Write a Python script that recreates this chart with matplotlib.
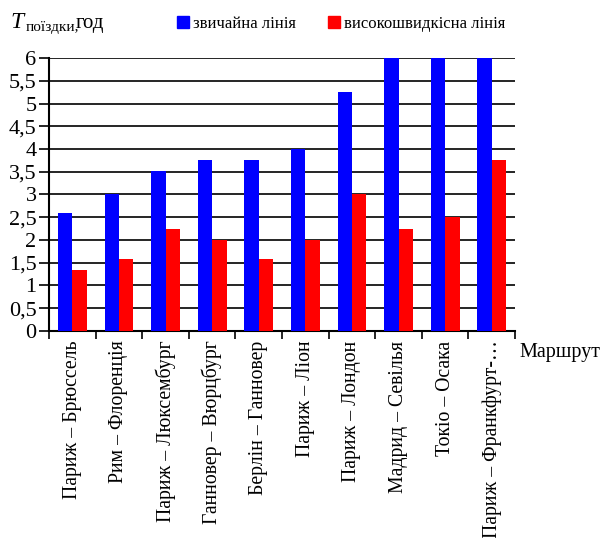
import numpy as np
import matplotlib.pyplot as plt
from matplotlib.patches import Patch
from matplotlib.ticker import FuncFormatter, MultipleLocator

plt.rcParams['font.family'] = ['Liberation Serif', 'DejaVu Serif']

routes = ['Париж – Брюссель', 'Рим – Флоренція', 'Париж – Люксембург',
          'Ганновер – Вюрцбург', 'Берлін – Ганновер', 'Париж – Ліон',
          'Париж – Лондон', 'Мадрид – Севілья', 'Токіо – Осака',
          'Париж – Франкфурт-…']
regular = [2.6, 3.0, 3.52, 3.75, 3.75, 4.0, 5.25, 6.0, 6.0, 6.0]
high_speed = [1.33, 1.58, 2.25, 2.0, 1.58, 2.0, 3.0, 2.25, 2.5, 3.75]

blue = '#0000ff'
red = '#ff0000'

fig = plt.figure(figsize=(6.06, 5.38), dpi=100)
ax = fig.add_axes([0.081, 0.385, 0.769, 0.507])

x = np.arange(len(routes))
w = 0.31
ax.bar(x - w / 2, regular, w, color=blue, zorder=3)
ax.bar(x + w / 2, high_speed, w, color=red, zorder=3)

ax.set_xlim(-0.5, len(routes) - 0.5)
ax.set_ylim(0, 6)
ax.yaxis.set_major_locator(MultipleLocator(0.5))
ax.yaxis.set_major_formatter(FuncFormatter(lambda v, p: ('%g' % v).replace('.', ',')))
ax.grid(axis='y', color='black', linewidth=1.2, zorder=1)

ax.set_xticks(x)
ax.set_xticklabels(routes, rotation=90, fontsize=14.2)
ax.set_xticks(np.arange(-0.5, len(routes)), minor=True)
ax.tick_params(axis='x', which='major', length=0, pad=7)
ax.tick_params(axis='x', which='minor', length=6, width=1.2, direction='out')
ax.tick_params(axis='y', length=7, width=1.2, labelsize=16, pad=2)

for s in ['top', 'right']:
    ax.spines[s].set_visible(False)
for s in ['left', 'bottom']:
    ax.spines[s].set_linewidth(1.5)

ax.text(1.01, -0.08, 'Маршрут', transform=ax.transAxes, fontsize=14.5,
        ha='left', va='center')

# axis title: T with the subscript, then units
fig.text(0.017, 0.948, 'T', fontsize=17, style='italic')
fig.text(0.043, 0.942, 'поїздки,', fontsize=11)
fig.text(0.125, 0.948, 'год', fontsize=15)

handles = [Patch(color=blue, label='звичайна лінія'),
           Patch(color=red, label='високошвидкісна лінія')]
fig.legend(handles=handles, loc='center left', bbox_to_anchor=(0.268, 0.956),
           ncol=2, frameon=False, fontsize=12, handlelength=0.7,
           handleheight=0.7, handletextpad=0.25, columnspacing=1.9)

fig.savefig('out.png')
